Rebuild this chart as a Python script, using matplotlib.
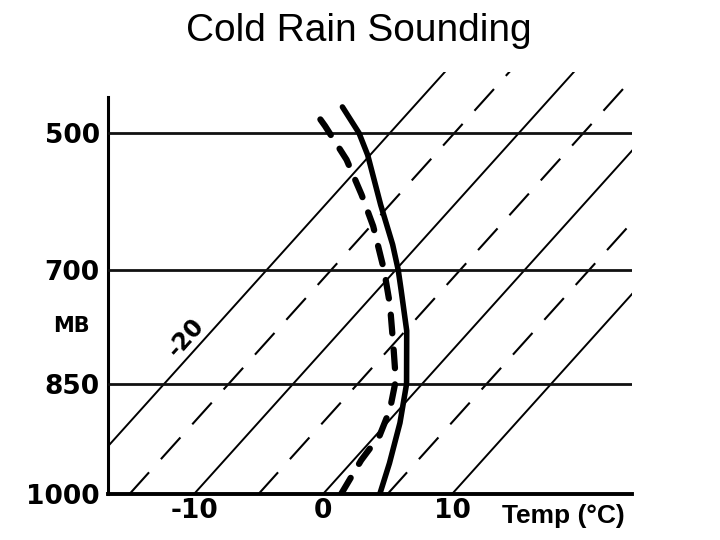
import numpy as np
import matplotlib
matplotlib.use('Agg')
import matplotlib.pyplot as plt
from matplotlib.ticker import NullLocator

# sounding: pressure (mb) / temperature (deg C)
temp_p = [1000, 958, 903, 850, 780, 726, 700, 663, 605, 532, 500, 462]
temp_c = [4.4, 3.0, 1.0, -1.2, -4.9, -8.2, -9.8, -12.0, -15.7, -20.2, -22.4, -25.5]
dewpt_p = [1000, 954, 920, 885, 845, 803, 746, 700, 636, 590, 539, 490, 476]
dewpt_c = [1.4, 0.6, 0.3, -0.7, -2.3, -4.7, -8.0, -10.9, -14.8, -17.9, -21.5, -25.5, -26.7]

solid_isotherms = [-20, -10, 0, 10]
dashed_isotherms = [-15, -5, 5]
pressure_levels = [500, 700, 850, 1000]
pressure_labels = ['500', '700', '850', '1000']
temp_ticks = [-10, 0, 10]
temp_tick_labels = ['-10', '0', '10']

# the old chart is hand drawn, pressure spacing is not quite log-p,
# so the y scale is piecewise linear between the drawn levels
SCALE_P = [300, 500, 700, 850, 1000, 1100]
SCALE_H = [498, 361, 224, 110, 0, -73]
SKEW = 0.9 / 12.9   # x shift (deg C) per unit of height


def height(p):
    return np.interp(np.asarray(p, dtype=float), SCALE_P, SCALE_H)


def fwd(p):
    return -height(p)


def inv(v):
    return np.interp(np.asarray(v, dtype=float), [-h for h in SCALE_H], SCALE_P)


def skew_x(t, p):
    return np.asarray(t, dtype=float) + SKEW * height(p)


fig = plt.figure(figsize=(7.2, 5.4), dpi=100)
fig.patch.set_facecolor('white')
ax = fig.add_axes([108/720, 1 - 494/540, 524/720, 422/540])
ax.set_yscale('function', functions=(fwd, inv))
ax.set_ylim(1000, 411)
ax.set_xlim(-16.67, 23.95)

# isotherms
p_line = np.array([1000, 300])
for t in solid_isotherms:
    ax.plot(skew_x(t, p_line), p_line, color='black', lw=1.4, zorder=2)
for t in dashed_isotherms:
    ax.plot(skew_x(t, p_line), p_line, color='black', lw=1.5,
            linestyle=(0, (14, 8.5)), zorder=2)

# pressure levels
for p in pressure_levels[:-1]:
    ax.axhline(p, color='#111', lw=2.0, zorder=3)

# temperature (solid) and dew point (dashed)
ax.plot(skew_x(temp_c, temp_p), temp_p, color='black', lw=4,
        solid_capstyle='round', solid_joinstyle='round', zorder=5)
ax.plot(skew_x(dewpt_c, dewpt_p), dewpt_p, color='black', lw=4.5,
        linestyle=(0, (3.0, 2.6)), dash_capstyle='round', zorder=5)

ax.annotate('-20', xy=(skew_x(-20, 790), 790), xytext=(-14, 1),
            textcoords='offset points', rotation=48, rotation_mode='anchor',
            ha='center', va='center', fontsize=17, fontweight='bold',
            family='DejaVu Sans')

# axes / spines
for s in ['top', 'right']:
    ax.spines[s].set_visible(False)
ax.spines['left'].set_linewidth(2.2)
ax.spines['left'].set_bounds(447, 1000)
ax.spines['bottom'].set_linewidth(2.8)

ax.set_yticks(pressure_levels, labels=pressure_labels, fontsize=19,
              fontweight='bold', family='DejaVu Sans')
ax.yaxis.set_minor_locator(NullLocator())
ax.set_xticks(temp_ticks, labels=temp_tick_labels, fontsize=19,
              fontweight='bold', family='DejaVu Sans')
ax.xaxis.set_minor_locator(NullLocator())
ax.tick_params(axis='y', length=0, pad=6)
ax.tick_params(axis='x', length=0, pad=3)

fig.text(71/720, 1 - 326/540, 'MB', ha='center', va='center', fontsize=15,
         fontweight='bold', family='DejaVu Sans')
fig.text(502/720, 1 - 523/540, 'Temp (°C)', ha='left', va='baseline',
         fontsize=19, fontweight='bold', family='Liberation Sans')
fig.text(0.498, 1 - 41/540, 'Cold Rain Sounding', ha='center', va='baseline',
         fontsize=28, family='Liberation Sans')

fig.savefig('out.png', dpi=100, facecolor='white')
